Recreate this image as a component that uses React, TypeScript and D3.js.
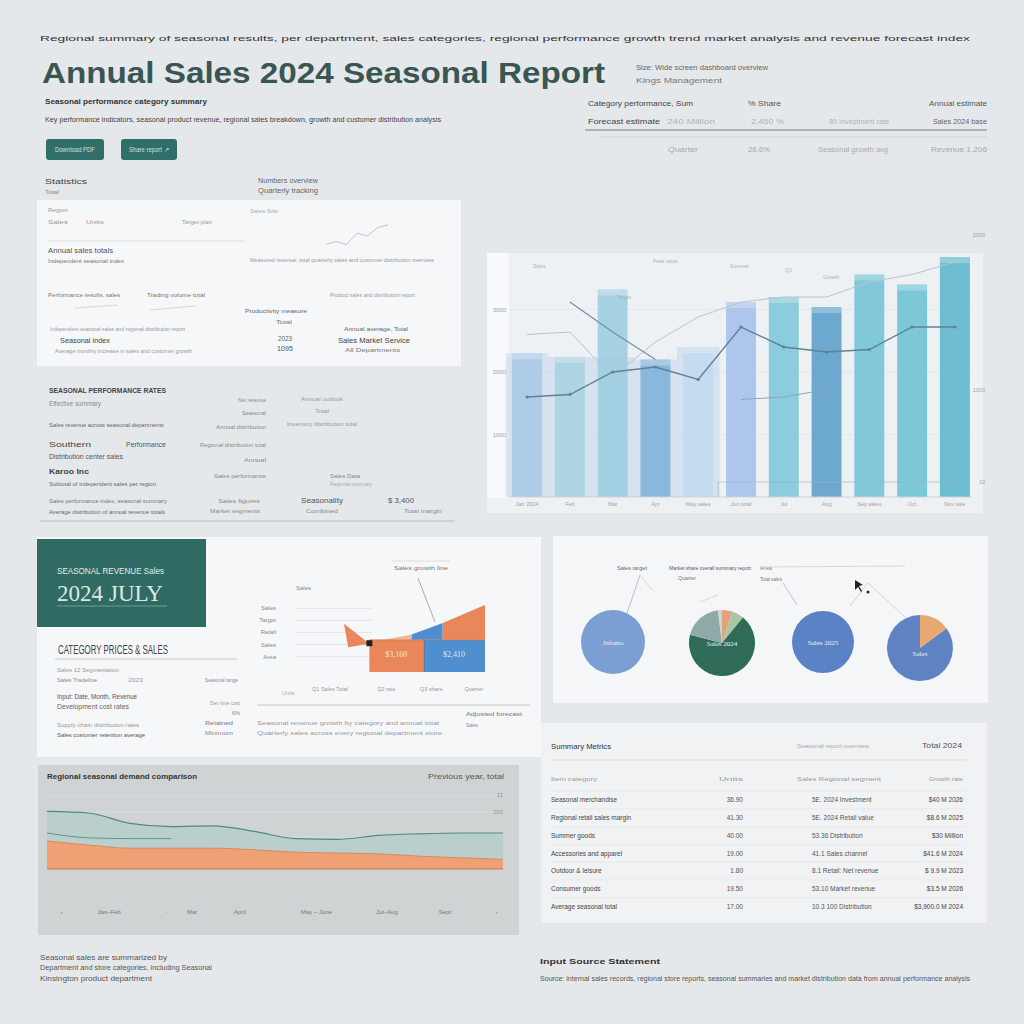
import React from 'react';
import * as d3 from 'd3';

const SANS = '"Liberation Sans", Arial, sans-serif';
const SERIF = '"Liberation Serif", serif';

// ---------- combined bar + line chart ----------
const barCats = ['Jan', 'Feb', 'Mar', 'Apr', 'May', 'Jun', 'Jul', 'Aug', 'Sep', 'Oct', 'Nov'];
const barValues = [2300, 2240, 3320, 2200, 2400, 3120, 3200, 3040, 3560, 3400, 3840];
const ghostValues = [2300, 2240, 2240, 2200, 2400, 0, 0, 0, 0, 0, 0];
const lineMain = [1600, 1640, 2000, 2080, 1880, 2720, 2400, 2320, 2360, 2720, 2720];
const lineUpper = [2600, 2640, 1920, 2480, 2880, 3120, 3200, 3200, 3440, 3560, 3760];
const lineDesc: (number | null)[] = [null, 3120, 2640, 2200, null, null, null, null, null, null, null];
const lineLow: (number | null)[] = [null, null, null, null, null, 1560, 1600, 1720, null, null, null];
const barTicks = [1000, 2000, 3000];
const barXLabels = ['Jan 2024', 'Feb', 'Mar', 'Apr', 'May sales', 'Jun total', 'Jul', 'Aug', 'Sep sales', 'Oct', 'Nov sale'];
const barColors = ['#a9c8e6', '#a8d2df', '#9dcde0', '#7fb1d8', '#c3daee', '#a6bfea', '#7dc6d9', '#5b9dc9', '#72c3d6', '#6cc2d4', '#5cb5cc'];

// ---------- small stepped area in middle-left card ----------
const miniWedge = [[0, 72], [18, 42], [3, 37]];
const miniBlockA = [[18, 0], [57, 0], [57, 48], [18, 48]];
const miniBlockB = [[57, 0], [100, 0], [100, 48], [57, 48]];
const miniUpperA = [[28, 48], [48, 56], [48, 48]];
const miniUpperB = [[48, 48], [48, 56], [70, 73], [70, 48]];
const miniUpperC = [[70, 48], [70, 73], [100, 100], [100, 48]];
const miniYLabels = ['Sales', 'Target', 'Retail', 'Sales', 'Area'];
const miniYValues = [92, 74, 56, 38, 20];
const miniXLabels = ['Q1 Sales  Total', 'Q2 rate', 'Q3  share', 'Quarter'];
const miniXValues = [-10, 30, 62, 92];

// ---------- pies ----------
const pie1 = [100];
const pie2 = [5, 6, 68, 19, 2];
const pie3 = [100];
const pie4 = [15, 85];
const pieLabels = ['Jnfomo', 'Sales 2024', 'Sales 2025', 'Sales'];
const pieColors = [['#7b9fd3'], ['#e3a27c', '#a9c7a0', '#2f6b58', '#8eaaa9', '#c9d6d3'], ['#5a82c5'], ['#e8aa72', '#5f82c2']];

// ---------- area chart ----------
const areaX = [0, 1, 2, 3, 4, 5, 6, 7, 8, 9, 10, 11];
const tealTop = [72, 70, 57, 53, 54, 47, 38, 37, 42, 44, 45, 45];
const tealLow: (number | null)[] = [45, 39, 38, 38, null, null, null, null, null, null, null, null];
const orangeTop = [35, 30, 26, 26, 26, 24, 21, 20, 19, 16, 14, 12];
const areaTickValues = [40, 71, 92];
const areaTickLabels = ['30', '200', '11'];
const areaXLabelPos = [0.35, 1.5, 2.9, 3.5, 4.65, 6.5, 8.2, 9.6, 10.85];
const areaXLabels = ['›', 'Jan–Feb', '·', 'Mar', 'April', 'May – June', 'Jul–Aug', 'Sept', '›'];

// ---------- table ----------
const tableHeader = ['Item category', 'Units', 'Sales  Regional segment', 'Growth rate'];
const tableCol1 = ['Seasonal merchandise', 'Regional retail sales margin', 'Summer goods', 'Accessories and apparel', 'Outdoor & leisure', 'Consumer goods', 'Average seasonal total'];
const tableCol2 = ['36.90', '41.30', '40.00', '19.00', '1.80', '19.50', '17.00'];
const tableCol3 = ['5E. 2024 Investment', '5E. 2024 Retail value', '53.36 Distribution', '41.1 Sales channel', '8.1 Retail: Net revenue', '53.10 Market revenue', '10.3 100 Distribution'];
const tableCol4 = ['$40 M 2026', '$8.6 M 2025', '$30 Million', '$41.6 M 2024', '$ 9.9 M 2023', '$3.5 M 2026', '$3,900.0 M 2024'];

const pts = (arr: number[][], sx: d3.ScaleLinear<number, number>, sy: d3.ScaleLinear<number, number>) =>
  arr.map(p => `${sx(p[0])},${sy(p[1])}`).join(' ');

const T = ({ x, y, w, s = 7, c = '#666', b = false, a = 'start', f = SANS, children }: any) => (
  <text x={x} y={y} fontSize={s} fill={c} fontWeight={b ? 700 : 400} textAnchor={a} fontFamily={f}
    textLength={w} lengthAdjust={w ? 'spacingAndGlyphs' : undefined}>{children}</text>
);

function BarChart() {
  const xB = d3.scaleBand().domain(barCats).range([510, 972]).paddingInner(0.3).paddingOuter(0.05);
  const yB = d3.scaleLinear().domain([0, 4000]).range([497, 247]);
  const bw = xB.bandwidth();
  const cx = (c: string) => (xB(c) as number) + bw / 2;
  const line = d3.line<number | null>()
    .defined(d => d != null)
    .x((_, i) => cx(barCats[i]))
    .y(d => yB(d as number));
  return (
    <g>
      <rect x={487} y={253} width={496} height={260} fill="#eef1f4" />
      <rect x={487} y={253} width={22} height={245} fill="#f8f9fb" />
      {barTicks.map(t => (
        <g key={t}>
          <line x1={510} x2={972} y1={yB(t)} y2={yB(t)} stroke="#e0e6ec" strokeWidth={0.8} />
          <T x={506} y={yB(t) + 2} s={6} c="#9aa4ad" a="end">{t}</T>
        </g>
      ))}
      {barCats.map((c, i) => ghostValues[i] > 0 && (
        <rect key={'g' + c} x={(xB(c) as number) - xB.step() * 0.15} y={yB(ghostValues[i])}
          width={xB.step()} height={497 - yB(ghostValues[i])} fill="#b8d1ea" opacity={0.45} />
      ))}
      {barCats.map((c, i) => (
        <g key={c}>
          <rect x={xB(c)} y={yB(barValues[i])} width={bw} height={497 - yB(barValues[i])}
            fill={barColors[i]} opacity={0.88} />
          <rect x={xB(c)} y={yB(barValues[i])} width={bw} height={6} fill="#ffffff" opacity={0.25} />
          <T x={cx(c)} y={506} s={5.5} c="#9aa4ad" a="middle">{barXLabels[i]}</T>
        </g>
      ))}
      <line x1={510} x2={972} y1={497} y2={497} stroke="#c9d3dc" />
      <line x1={718} x2={967} y1={482} y2={482} stroke="#9fb2c2" strokeWidth={0.6} />
      <line x1={718} x2={718} y1={482} y2={497} stroke="#9fb2c2" strokeWidth={0.6} />
      <path d={line(lineUpper) || ''} fill="none" stroke="#b7c4cf" strokeWidth={1} />
      <path d={line(lineDesc) || ''} fill="none" stroke="#6e8ea8" strokeWidth={1.1} />
      <path d={line(lineLow) || ''} fill="none" stroke="#8aa6bb" strokeWidth={1} />
      <path d={line(lineMain) || ''} fill="none" stroke="#5d8199" strokeWidth={1.4} />
      {lineMain.map((v, i) => (
        <circle key={i} cx={cx(barCats[i])} cy={yB(v)} r={1.6} fill="#5d8199" />
      ))}
      <T x={533} y={268} s={5} c="#aab3bb">Sales</T>
      <T x={617} y={299} s={5} c="#aab3bb">Target</T>
      <T x={653} y={263} s={5} c="#aab3bb">Peak value</T>
      <T x={730} y={268} s={5} c="#aab3bb">Summer</T>
      <T x={785} y={272} s={5} c="#aab3bb">Q3</T>
      <T x={823} y={279} s={5} c="#aab3bb">Growth</T>
      <T x={985} y={237} s={5.5} c="#9aa4ad" a="end">2000</T>
      <T x={985} y={392} s={5.5} c="#9aa4ad" a="end">1000</T>
      <T x={985} y={484} s={5.5} c="#9aa4ad" a="end">10</T>
    </g>
  );
}

function MiniChart() {
  const sx = d3.scaleLinear().domain([0, 100]).range([344, 485]);
  const sy = d3.scaleLinear().domain([0, 100]).range([672, 605]);
  return (
    <g>
      {miniYValues.map((v, i) => (
        <g key={i}>
          <line x1={295} x2={372} y1={sy(v) - 2} y2={sy(v) - 2} stroke="#dde1e4" strokeWidth={0.8} />
          <T x={276} y={sy(v)} s={6} c="#888" a="end">{miniYLabels[i]}</T>
        </g>
      ))}
      <polygon points={pts(miniWedge, sx, sy)} fill="#e9875a" />
      <polygon points={pts(miniBlockA, sx, sy)} fill="#e9875a" />
      <polygon points={pts(miniBlockB, sx, sy)} fill="#4f8fd0" />
      <polygon points={pts(miniUpperA, sx, sy)} fill="#f2b796" />
      <polygon points={pts(miniUpperB, sx, sy)} fill="#4f8fd0" />
      <polygon points={pts(miniUpperC, sx, sy)} fill="#e9875a" />
      <line x1={sx(57)} x2={sx(57)} y1={sy(0)} y2={sy(48)} stroke="#3c6f9c" strokeWidth={0.8} />
      <line x1={sx(18)} x2={sx(100)} y1={sy(48)} y2={sy(48)} stroke="#c96f45" strokeWidth={0.6} />
      <rect x={sx(18) - 3} y={sy(43) - 3} width={6} height={6} fill="#222" />
      <T x={sx(37)} y={sy(22)} s={8} c="#fbe3d4" a="middle" f={SERIF}>$3,160</T>
      <T x={sx(78)} y={sy(22)} s={8} c="#dbe9f7" a="middle" f={SERIF}>$2,410</T>
      <line x1={418} x2={435} y1={578} y2={622} stroke="#777" strokeWidth={0.6} />
      <line x1={392} x2={450} y1={561} y2={561} stroke="#ccc" strokeWidth={0.6} />
      <T x={421} y={570} s={6} c="#777" a="middle" w={54}>Sales growth line</T>
      <T x={296} y={590} s={6} c="#888">Sales</T>
      {miniXLabels.map((l, i) => (
        <T key={i} x={sx(miniXValues[i])} y={691} s={5.5} c="#999" a="middle">{l}</T>
      ))}
      <T x={282} y={695} s={5.5} c="#aaa">Units</T>
    </g>
  );
}

function Pies() {
  const centers = [[613, 642, 32], [722, 643, 33], [823, 642, 31], [920, 648, 33]];
  const datas = [pie1, pie2, pie3, pie4];
  const pie = d3.pie<number>().sort(null).value(d => d);
  return (
    <g>
      {datas.map((d, k) => {
        const [cx, cy, r] = centers[k];
        const arc = d3.arc<d3.PieArcDatum<number>>().innerRadius(0).outerRadius(r);
        return (
          <g key={k} transform={`translate(${cx},${cy})`}>
            {pie(d).map((a, i) => (
              <path key={i} d={arc(a) || ''} fill={pieColors[k][i]} />
            ))}
            <T x={0} y={k === 3 ? 8 : 3} s={7} c="#eef3fb" a="middle" f={SERIF}>{pieLabels[k]}</T>
          </g>
        );
      })}
    </g>
  );
}

function AreaChart() {
  const xA = d3.scaleLinear().domain([0, 11]).range([47, 503]);
  const yA = d3.scaleLinear().domain([0, 100]).range([869, 789]);
  const orange = d3.area<number>().x((_, i) => xA(areaX[i])).y0(yA(0)).y1(d => yA(d)).curve(d3.curveMonotoneX);
  const teal = d3.area<number>().x((_, i) => xA(areaX[i])).y0((_, i) => yA(orangeTop[i])).y1(d => yA(d)).curve(d3.curveMonotoneX);
  const line = d3.line<number | null>().defined(d => d != null).x((_, i) => xA(areaX[i])).y(d => yA(d as number)).curve(d3.curveMonotoneX);
  return (
    <g>
      <rect x={38} y={765} width={481} height={170} fill="#d0d3d4" />
      {areaTickValues.map((v, i) => (
        <g key={i}>
          <line x1={47} x2={503} y1={yA(v)} y2={yA(v)} stroke="#dadddf" strokeWidth={0.8} />
          <T x={503} y={yA(v) + 2} s={6} c="#8f9698" a="end">{areaTickLabels[i]}</T>
        </g>
      ))}
      <path d={teal(tealTop) || ''} fill="#bacfcb" />
      <path d={orange(orangeTop) || ''} fill="#efa074" />
      <path d={line(orangeTop) || ''} fill="none" stroke="#d88a5e" strokeWidth={1} />
      <line x1={47} x2={503} y1={yA(0)} y2={yA(0)} stroke="#c07a55" strokeWidth={1.2} />
      <path d={line(tealLow) || ''} fill="none" stroke="#5f9690" strokeWidth={1} />
      <path d={line(tealTop) || ''} fill="none" stroke="#4f8985" strokeWidth={1.2} />
      <T x={47} y={779} s={7} c="#333" b w={150}>Regional seasonal demand comparison</T>
      <T x={504} y={779} s={7} c="#555" a="end" w={76}>Previous year, total</T>
      {areaXLabelPos.map((p, i) => (
        <T key={i} x={xA(p)} y={914} s={6} c="#777" a="middle">{areaXLabels[i]}</T>
      ))}
    </g>
  );
}

function Table() {
  const rowY = [802, 820, 838, 856, 873, 891, 909];
  return (
    <g>
      <rect x={541} y={723} width={446} height={200} fill="#f1f2f3" />
      <T x={551} y={749} s={8} c="#333" w={60}>Summary Metrics</T>
      <T x={833} y={748} s={6} c="#aaa" a="middle" w={72}>Seasonal report overview</T>
      <T x={962} y={748} s={6.5} c="#555" a="end" w={40}>Total 2024</T>
      <line x1={551} x2={966} y1={760} y2={760} stroke="#d9dbdd" />
      <T x={551} y={781} s={6} c="#999" w={46}>{tableHeader[0]}</T>
      <T x={743} y={781} s={6} c="#999" a="end" w={24}>{tableHeader[1]}</T>
      <T x={797} y={781} s={6} c="#999" w={84}>{tableHeader[2]}</T>
      <T x={963} y={781} s={6} c="#999" a="end" w={34}>{tableHeader[3]}</T>
      {tableCol1.map((t, i) => (
        <g key={i}>
          <line x1={551} x2={966} y1={rowY[i] - 11} y2={rowY[i] - 11} stroke="#e4e6e8" strokeWidth={0.7} />
          <T x={551} y={rowY[i]} s={6.5} c="#444">{t}</T>
          <T x={743} y={rowY[i]} s={6.5} c="#555" a="end">{tableCol2[i]}</T>
          <T x={812} y={rowY[i]} s={6.5} c="#555">{tableCol3[i]}</T>
          <T x={963} y={rowY[i]} s={6.5} c="#444" a="end">{tableCol4[i]}</T>
        </g>
      ))}
    </g>
  );
}

const spark1 = [[0, 2], [1, 3], [2, 2], [3, 6], [4, 5], [5, 8], [6, 9]];

export default function App() {
  const sxs = d3.scaleLinear().domain([0, 6]).range([326, 388]);
  const sys = d3.scaleLinear().domain([0, 10]).range([250, 222]);
  return (
    <svg width={1024} height={1024} style={{ position: 'absolute', left: 0, top: 0 }} fontFamily={SANS}>
      <rect width={1024} height={1024} fill="#e5e8eb" />

      {/* header */}
      <T x={40} y={41} s={8} c="#333" w={930}>Regional summary of seasonal results, per department, sales categories, regional performance growth trend market analysis and revenue forecast index</T>
      <T x={42} y={83} s={29} c="#3a5653" b w={563}>Annual Sales 2024 Seasonal Report</T>
      <T x={45} y={104} s={8} c="#333" b w={162}>Seasonal performance category summary</T>
      <T x={45} y={122} s={7.5} c="#444" w={396}>Key performance indicators, seasonal product revenue, regional sales breakdown, growth and customer distribution analysis</T>
      <rect x={46} y={139} width={58} height={21} rx={3} fill="#2f6e69" />
      <T x={75} y={152} s={6.5} c="#cfe3df" a="middle" w={40}>Download PDF</T>
      <rect x={121} y={139} width={56} height={21} rx={3} fill="#2f6e69" />
      <T x={149} y={152} s={6.5} c="#cfe3df" a="middle" w={40}>Share report ↗</T>

      {/* top right summary */}
      <T x={636} y={70} s={7.5} c="#666" w={132}>Size: Wide screen dashboard overview</T>
      <T x={636} y={83} s={7.5} c="#777" w={86}>Kings Management</T>
      <T x={588} y={106} s={7} c="#444" w={105}>Category performance, Sum</T>
      <T x={748} y={106} s={7} c="#555" w={33}>% Share</T>
      <T x={987} y={106} s={7} c="#555" a="end" w={58}>Annual estimate</T>
      <T x={588} y={124} s={7} c="#444" w={72}>Forecast estimate</T>
      <T x={667} y={124} s={7} c="#b0b3b6" w={48}>240 Million</T>
      <T x={751} y={124} s={7} c="#b0b3b6" w={33}>2,450 %</T>
      <T x={829} y={124} s={7} c="#b0b3b6" w={60}>80 Investment rate</T>
      <T x={987} y={124} s={7} c="#666" a="end" w={54}>Sales 2024 base</T>
      <line x1={585} x2={987} y1={130} y2={130} stroke="#7a7f83" strokeWidth={1.2} />
      <line x1={600} x2={987} y1={137} y2={137} stroke="#cfd3d6" />
      <T x={668} y={152} s={7} c="#a5a9ad" w={30}>Quarter</T>
      <T x={748} y={152} s={7} c="#a5a9ad" w={22}>28.6%</T>
      <T x={818} y={152} s={7} c="#a5a9ad" w={70}>Seasonal growth avg</T>
      <T x={987} y={152} s={7} c="#a5a9ad" a="end" w={56}>Revenue 1,206</T>

      {/* left upper */}
      <T x={45} y={184} s={7.5} c="#444" w={42}>Statistics</T>
      <T x={45} y={194} s={6} c="#888" w={14}>Total</T>
      <T x={258} y={183} s={6.5} c="#666" w={60}>Numbers overview</T>
      <T x={258} y={193} s={6.5} c="#666" w={60}>Quarterly tracking</T>
      <rect x={37} y={200} width={424} height={166} fill="#f6f7f8" />
      <T x={48} y={212} s={5.5} c="#999" w={20}>Region</T>
      <T x={48} y={224} s={5.5} c="#999" w={20}>Sales</T>
      <T x={86} y={224} s={5.5} c="#999" w={18}>Units</T>
      <T x={182} y={224} s={5.5} c="#999" w={30}>Target plan</T>
      <T x={250} y={213} s={5.5} c="#aaa" w={28}>Sales flow</T>
      <polyline points={pts(spark1, sxs, sys)} fill="none" stroke="#b5b9bc" strokeWidth={0.8} />
      <line x1={47} x2={245} y1={241} y2={241} stroke="#dcdfe1" />
      <T x={48} y={253} s={6.5} c="#555" w={65}>Annual sales totals</T>
      <T x={48} y={263} s={6} c="#777" w={76}>Independent seasonal index</T>
      <T x={250} y={262} s={6} c="#999" w={184}>Measured revenue, total quarterly sales and customer distribution overview</T>
      <T x={48} y={297} s={5.5} c="#777" w={72}>Performance results, sales</T>
      <T x={147} y={297} s={5.5} c="#777" w={58}>Trading volume total</T>
      <T x={330} y={297} s={5.5} c="#999" w={85}>Product sales and distribution report</T>
      <line x1={75} x2={118} y1={308} y2={305} stroke="#c5c9cc" strokeWidth={0.7} />
      <line x1={150} x2={195} y1={310} y2={306} stroke="#c5c9cc" strokeWidth={0.7} />
      <T x={245} y={313} s={6} c="#666" w={62}>Productivity measure</T>
      <T x={276} y={324} s={6} c="#777" w={16}>Total</T>
      <T x={50} y={331} s={5} c="#999" w={135}>Independent seasonal sales and regional distribution report</T>
      <T x={60} y={343} s={8} c="#444" w={50}>Seasonal index</T>
      <T x={55} y={353} s={5} c="#999" w={137}>Average monthly increase in sales and customer growth</T>
      <T x={278} y={341} s={6.5} c="#666" w={14}>2023</T>
      <T x={277} y={351} s={7.5} c="#555" w={16}>1095</T>
      <T x={344} y={331} s={6} c="#666" w={64}>Annual average, Total</T>
      <T x={338} y={343} s={8} c="#444" w={72}>Sales Market Service</T>
      <T x={345} y={352} s={6} c="#777" w={55}>All Departments</T>

      {/* left text block */}
      <T x={49} y={393} s={8} c="#444" b w={117}>SEASONAL PERFORMANCE RATES</T>
      <T x={49} y={406} s={6.5} c="#888" w={52}>Effective summary</T>
      <T x={49} y={427} s={6} c="#666" w={115}>Sales revenue across seasonal departments</T>
      <T x={49} y={447} s={8} c="#444" w={42}>Southern</T>
      <T x={126} y={447} s={7} c="#555" w={40}>Performance</T>
      <T x={49} y={459} s={6.5} c="#555" w={74}>Distribution center sales</T>
      <T x={49} y={474} s={8} c="#444" b w={40}>Karoo Inc</T>
      <T x={49} y={486} s={6} c="#666" w={107}>Subtotal of independent sales per region</T>
      <T x={49} y={503} s={6} c="#777" w={118}>Sales performance index, seasonal summary</T>
      <T x={49} y={514} s={6} c="#666" w={116}>Average distribution of annual revenue totals</T>
      <T x={266} y={402} s={6} c="#888" a="end" w={28}>Net revenue</T>
      <T x={266} y={415} s={6} c="#888" a="end" w={24}>Seasonal</T>
      <T x={266} y={429} s={6} c="#888" a="end" w={50}>Annual distribution</T>
      <T x={266} y={447} s={6} c="#888" a="end" w={66}>Regional distribution total</T>
      <T x={266} y={462} s={6} c="#888" a="end" w={22}>Annual</T>
      <T x={266} y={478} s={6} c="#888" a="end" w={52}>Sales performance</T>
      <T x={260} y={503} s={6} c="#888" a="end" w={42}>Sales figures</T>
      <T x={260} y={513} s={6} c="#888" a="end" w={50}>Market segments</T>
      <T x={322} y={401} s={6} c="#999" a="middle" w={42}>Annual outlook</T>
      <T x={322} y={413} s={6} c="#999" a="middle" w={14}>Total</T>
      <T x={322} y={426} s={6} c="#999" a="middle" w={70}>Inventory distribution total</T>
      <T x={330} y={478} s={6} c="#888" w={30}>Sales Data</T>
      <T x={330} y={486} s={5} c="#aaa" w={42}>Regional summary</T>
      <T x={322} y={503} s={6.5} c="#555" a="middle" w={42}>Seasonality</T>
      <T x={322} y={513} s={6} c="#888" a="middle" w={32}>Combined</T>
      <T x={414} y={503} s={6.5} c="#555" a="end" w={26}>$ 3,400</T>
      <T x={442} y={513} s={6} c="#888" a="end" w={38}>Total margin</T>
      <line x1={40} x2={455} y1={521} y2={521} stroke="#b8bcbf" />

      <BarChart />

      {/* middle left card */}
      <rect x={37} y={537} width={504} height={220} fill="#f6f7f8" />
      <rect x={37} y={539} width={169} height={88} fill="#2f6b62" />
      <T x={57} y={574} s={9} c="#e1ece8" w={107}>SEASONAL REVENUE  Sales</T>
      <T x={57} y={601} s={24} c="#dbe8e3" f={SERIF} w={106}>2024 JULY</T>
      <line x1={57} x2={167} y1={606} y2={606} stroke="#9fc1b8" strokeWidth={0.6} />
      <T x={58} y={654} s={12} c="#444" w={110}>CATEGORY PRICES &amp; SALES</T>
      <line x1={55} x2={237} y1={659} y2={659} stroke="#c4c7ca" />
      <T x={57} y={672} s={6} c="#999" w={62}>Sales 12 Segmentation</T>
      <T x={57} y={682} s={6} c="#888" w={40}>Sales Tradeline</T>
      <T x={128} y={682} s={6} c="#999" w={15}>2023</T>
      <T x={238} y={682} s={6} c="#888" a="end" w={33}>Seasonal range</T>
      <T x={57} y={699} s={6.5} c="#555" w={80}>Input: Date, Month, Revenue</T>
      <T x={57} y={709} s={6.5} c="#666" w={72}>Development cost rates</T>
      <T x={240} y={705} s={5.5} c="#999" a="end" w={30}>Dev time cost</T>
      <T x={240} y={715} s={5.5} c="#888" a="end" w={8}>6%</T>
      <T x={57} y={727} s={6} c="#999" w={82}>Supply chain distribution rates</T>
      <T x={57} y={737} s={6} c="#555" w={88}>Sales customer retention average</T>
      <T x={233} y={725} s={6} c="#777" a="end" w={28}>Retained</T>
      <T x={233} y={735} s={6} c="#888" a="end" w={28}>Minimum</T>
      <MiniChart />
      <line x1={257} x2={530} y1={705} y2={705} stroke="#c4c7ca" />
      <T x={466} y={716} s={6} c="#777" w={56}>Adjusted forecast</T>
      <T x={466} y={727} s={6} c="#888" w={12}>Sales</T>
      <T x={257} y={725} s={5.5} c="#999" w={182}>Seasonal revenue growth by category and annual total</T>
      <T x={257} y={735} s={5.5} c="#999" w={185}>Quarterly sales across every regional department store</T>

      {/* pies card */}
      <rect x={553} y={536} width={435} height={167} fill="#f5f6f7" />
      <T x={617} y={570} s={5.5} c="#666" w={30}>Sales target</T>
      <T x={669} y={570} s={5.5} c="#555" w={82}>Market share overall summary report</T>
      <T x={678} y={580} s={5.5} c="#777" w={18}>Quarter</T>
      <T x={760} y={570} s={5.5} c="#888" w={12}>Area</T>
      <T x={760} y={581} s={5.5} c="#777" w={22}>Total sales</T>
      <line x1={760} x2={905} y1={567} y2={566} stroke="#c8cbce" strokeWidth={0.7} />
      <line x1={640} x2={624} y1={575} y2={622} stroke="#9aa6b3" strokeWidth={0.7} />
      <line x1={640} x2={652} y1={575} y2={590} stroke="#c0c5ca" strokeWidth={0.6} />
      <line x1={700} x2={718} y1={602} y2={595} stroke="#c0c5ca" strokeWidth={0.6} />
      <line x1={783} x2={797} y1={583} y2={605} stroke="#a8b0b7" strokeWidth={0.7} />
      <line x1={868} x2={850} y1={583} y2={606} stroke="#c0c5ca" strokeWidth={0.7} />
      <line x1={868} x2={905} y1={583} y2={617} stroke="#c0c5ca" strokeWidth={0.7} />
      <polygon points="855,580 855,590 858,587 861,592 862,591 859,586 863,585" fill="#222" />
      <circle cx={868} cy={592} r={1.6} fill="#333" />
      <Pies />

      <AreaChart />
      <Table />

      {/* footer */}
      <T x={40} y={960} s={6.5} c="#555" w={127}>Seasonal sales are summarized by</T>
      <T x={40} y={970} s={6.5} c="#555" w={172}>Department and store categories, including Seasonal</T>
      <T x={40} y={981} s={6.5} c="#555" w={112}>Kinsington product department</T>
      <T x={540} y={964} s={7} c="#333" b w={120}>Input Source Statement</T>
      <T x={540} y={981} s={6.5} c="#555" w={430}>Source: internal sales records, regional store reports, seasonal summaries and market distribution data from annual performance analysis</T>
    </svg>
  );
}
